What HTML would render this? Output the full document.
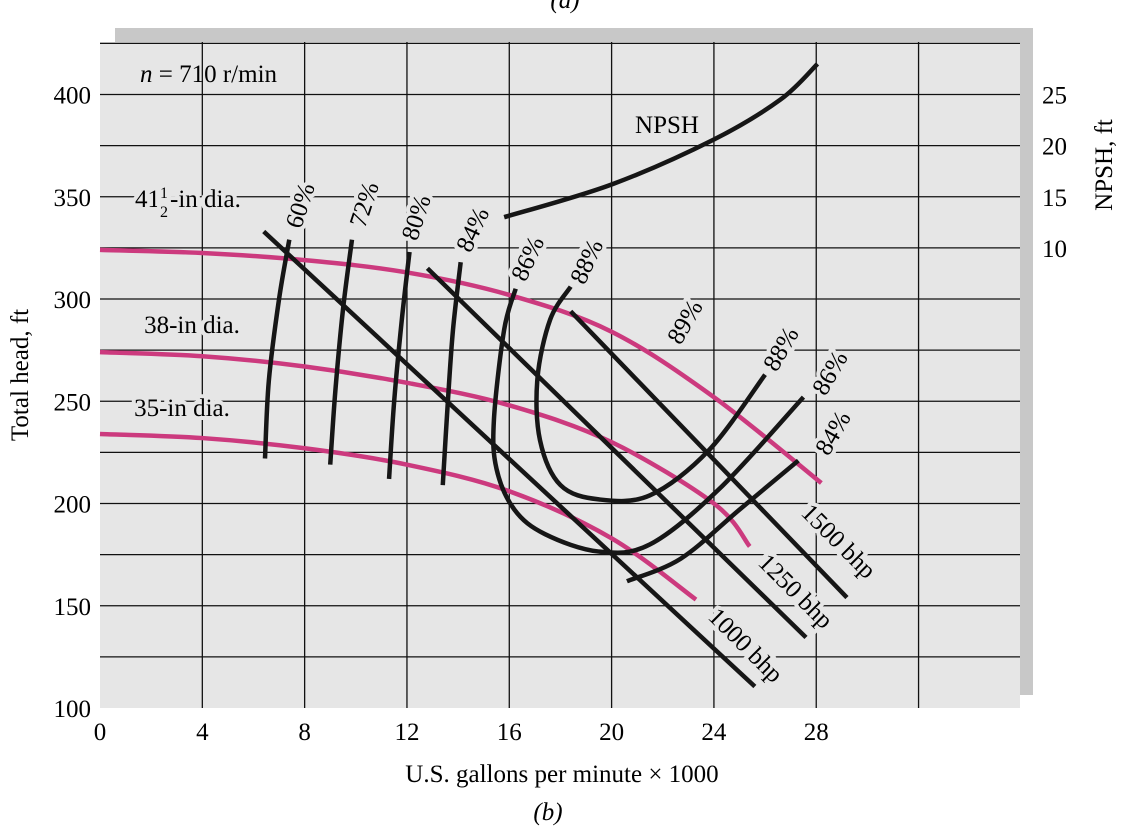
<!DOCTYPE html>
<html><head><meta charset="utf-8"><style>
body{margin:0;background:#fff;}
svg{display:block;font-family:"Liberation Serif",serif;}
</style></head><body>
<svg id="chart" width="1130" height="840" viewBox="0 0 1130 840" xmlns="http://www.w3.org/2000/svg">
<text x="565" y="8" text-anchor="middle" font-size="25" font-style="italic">(a)</text>
<rect x="115" y="28" width="918" height="667" fill="#c8c8c8"/>
<rect x="100" y="42" width="920" height="666" fill="#e6e6e6"/>
<g id="grid"></g>
<g id="series"></g>
<g id="labels"></g>
<text x="562" y="782" text-anchor="middle" font-size="25">U.S. gallons per minute × 1000</text>
<text x="548" y="820" text-anchor="middle" font-size="25" font-style="italic">(b)</text>
<text transform="translate(28,375) rotate(-90)" text-anchor="middle" font-size="25">Total head, ft</text>
<text transform="translate(1112,165) rotate(-90)" text-anchor="middle" font-size="25">NPSH, ft</text>
<text x="140" y="82" font-size="25"><tspan font-style="italic">n</tspan> = 710 r/min</text>
</svg>
<script>
const xTicks=[0,4,8,12,16,20,24,28];
const yTicks=[100,150,200,250,300,350,400];
const npshTicks=[10,15,20,25];
const dia415=[[0,324],[4,322.5],[8,319],[12,313],[16,302],[20,284],[24,252],[28.2,210]];
const dia38=[[0,274],[4,272],[8,267],[12,259],[16,248],[20,230],[24,200],[25.4,179]];
const dia35=[[0,234],[4,232],[8,227],[12,219],[16,206],[20,183],[23.3,153]];
const bhp1000=[[6.4,333],[25.6,110.5]];
const bhp1250=[[12.8,315],[27.6,134.5]];
const bhp1500=[[18.4,294],[29.2,154]];
const eff60=[[7.4,329],[7.0,300],[6.6,260],[6.45,222]];
const eff72=[[9.85,329],[9.5,295],[9.2,255],[9.0,219]];
const eff80=[[12.1,323],[11.8,290],[11.5,250],[11.3,212]];
const eff84=[[14.1,318],[13.8,285],[13.6,250],[13.4,209]];
const eff86=[[16.25,305],[15.8,285],[15.4,241],[15.5,217],[16.2,197],[17.4,185],[19.5,176.5],[21.5,180],[24.2,207],[27.5,252]];
const eff88=[[18.4,306],[17.6,290],[17.1,261],[17.2,231],[18.0,209],[19.5,202],[21.5,204],[23.8,226],[26.0,263]];
const eff84b=[[20.6,162],[22.7,173],[25,197],[27.3,221]];
const npsh=[[15.8,13],[20,16.2],[24,20.6],[26.6,24.5],[28.05,28]];
const NS="http://www.w3.org/2000/svg";
const X=v=>100+v*25.58;
const Y=v=>708-(v-100)*2.045;
const YN=n=>Y(325+(n-10)*5);
function mk(tag,attrs,parent){const e=document.createElementNS(NS,tag);for(const k in attrs)e.setAttribute(k,attrs[k]);document.getElementById(parent).appendChild(e);return e;}
for(let g=4;g<=32;g+=4){const l=mk('line',{x1:X(g),x2:X(g),y1:42,y2:708,stroke:'#111','stroke-width':1.3},'grid');

}
for(let h=125;h<=425;h+=25){const l=mk('line',{x1:100,x2:1020,y1:Y(h),y2:Y(h),stroke:'#111','stroke-width':1.3},'grid');

}
xTicks.forEach(t=>{const e=mk('text',{x:X(t),y:740,'text-anchor':'middle','font-size':25},'grid');e.textContent=t;

});
yTicks.forEach(t=>{const e=mk('text',{x:91,y:Y(t)+9,'text-anchor':'end','font-size':25},'grid');e.textContent=t;

});
npshTicks.forEach(t=>{const e=mk('text',{x:1042,y:YN(t)+9,'font-size':25},'grid');e.textContent=t;

});
function curve(pts,yf){const p=pts.map(q=>[X(q[0]),yf(q[1])]);let d='M'+p[0][0]+','+p[0][1];
if(p.length==2)return d+' L'+p[1][0]+','+p[1][1];
for(let i=0;i<p.length-1;i++){const p0=p[i-1]||p[i],p1=p[i],p2=p[i+1],p3=p[i+2]||p2;
d+=' C'+(p1[0]+(p2[0]-p0[0])/6)+','+(p1[1]+(p2[1]-p0[1])/6)+' '+(p2[0]-(p3[0]-p1[0])/6)+','+(p2[1]-(p3[1]-p1[1])/6)+' '+p2[0]+','+p2[1];}return d;}
function draw(pts,col,name,yf){const e=mk('path',{d:curve(pts,yf||Y),fill:'none',stroke:col,'stroke-width':4.5},'series');

}
const pink='#cc3a7e',blk='#161616';
draw(dia415,pink,'head-curve-41.5in');draw(dia38,pink,'head-curve-38in');draw(dia35,pink,'head-curve-35in');
draw(bhp1000,blk,'bhp-1000-line');draw(bhp1250,blk,'bhp-1250-line');draw(bhp1500,blk,'bhp-1500-line');
draw(eff60,blk,'eff-60-curve');draw(eff72,blk,'eff-72-curve');draw(eff80,blk,'eff-80-curve');draw(eff84,blk,'eff-84-curve');
draw(eff86,blk,'eff-86-curve');draw(eff88,blk,'eff-88-curve');draw(eff84b,blk,'eff-84-lower-curve');
draw(npsh,blk,'npsh-curve',YN);
function lab(t,x,y,rot,name,anchor){const e=mk('text',{x:0,y:0,transform:`translate(${x},${y}) rotate(${rot})`,'font-size':25,'text-anchor':anchor||'middle',stroke:'#e6e6e6','stroke-width':8,'paint-order':'stroke'},'labels');e.textContent=t;

return e;}
lab('NPSH',667,133,0,'npsh-label');
const l41=lab('',135,207,0,'dia-41.5-label','start');
l41.innerHTML='41<tspan font-size="16" dy="-9">1</tspan><tspan font-size="16" dx="-8" dy="19">2</tspan><tspan dx="2" dy="-10">-in dia.</tspan>';
lab('38-in dia.',192,333,0,'dia-38-label');lab('35-in dia.',182,416,0,'dia-35-label');
lab('60%',308,208,-72,'eff-60-label');lab('72%',372,207,-72,'eff-72-label');lab('80%',424,220,-72,'eff-80-label');
lab('84%',480,233,-65,'eff-84-label');lab('86%',535,262,-65,'eff-86-label');lab('88%',594,265,-65,'eff-88-label');
lab('89%',692,326,-60,'eff-89-label');lab('88%',788,353,-60,'eff-88-right-label');lab('86%',837,377,-60,'eff-86-right-label');
lab('84%',840,437,-60,'eff-84-right-label');
lab('1500 bhp',833,547,45,'bhp-1500-label');lab('1250 bhp',790,597,45,'bhp-1250-label');lab('1000 bhp',740,651,45,'bhp-1000-label');
</script>
</body></html>
